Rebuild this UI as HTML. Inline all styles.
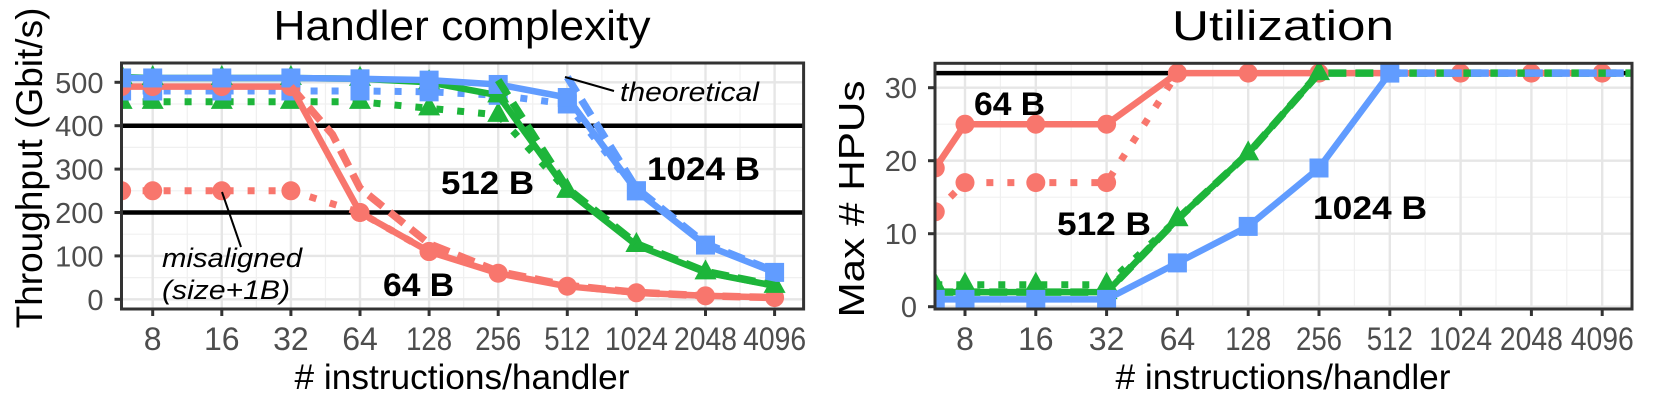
<!DOCTYPE html>
<html><head><meta charset="utf-8"><style>
html,body{margin:0;padding:0;background:#fff;}
svg{display:block;font-family:"Liberation Sans",Arial,sans-serif;}
</style></head><body>
<svg id="s" width="1654" height="402" xmlns="http://www.w3.org/2000/svg">
<defs>
<clipPath id="cL"><rect x="121.5" y="63" width="682" height="246"/></clipPath>
<clipPath id="cR"><rect x="935" y="63.3" width="697" height="245.7"/></clipPath>
</defs>
<g id="L"></g><g id="R"></g>
<text x="462" y="40" font-size="42" text-anchor="middle" textLength="377" lengthAdjust="spacingAndGlyphs">Handler complexity</text>
<text x="1283" y="40" font-size="42" text-anchor="middle" textLength="222" lengthAdjust="spacingAndGlyphs">Utilization</text>
<text x="462" y="389" font-size="35" text-anchor="middle" textLength="335" lengthAdjust="spacingAndGlyphs"># instructions/handler</text>
<text x="1283" y="389" font-size="35" text-anchor="middle" textLength="335" lengthAdjust="spacingAndGlyphs"># instructions/handler</text>
<text transform="translate(42,168) rotate(-90)" font-size="37" text-anchor="middle">Throughput (Gbit/s)</text>
<text transform="translate(864,199) rotate(-90)" font-size="36" text-anchor="middle" textLength="237" lengthAdjust="spacingAndGlyphs">Max # HPUs</text>
</svg>
<script>
const NS="http://www.w3.org/2000/svg";
function el(p,t,a,txt){const e=document.createElementNS(NS,t);for(const k in a)if(a[k]!==undefined)e.setAttribute(k,a[k]);if(txt!==undefined)e.textContent=txt;p.appendChild(e);return e;}
const C={r:"#F8766D",g:"#1DB53A",b:"#619CFF"};
const labs=["8","16","32","64","128","256","512","1024","2048","4096"];
function panel(g,cfg){
 const {x0,x1,y0,y1,X,Y,yt}=cfg;
 for(let i=-0.5;i<=9.5;i+=1){const x=X(i);if(x>x0&&x<x1)el(g,"line",{x1:x,x2:x,y1:y0,y2:y1,stroke:"#f0f0f0","stroke-width":1.2});}
 for(let k=0;k<yt.length-1;k++){const y=Y((yt[k]+yt[k+1])/2);el(g,"line",{x1:x0,x2:x1,y1:y,y2:y,stroke:"#f0f0f0","stroke-width":1.2});}
 const ext=yt[yt.length-1]+(yt[1]-yt[0])/2;const ye=Y(ext);if(ye>y0)el(g,"line",{x1:x0,x2:x1,y1:ye,y2:ye,stroke:"#f0f0f0","stroke-width":1.2});
 for(let i=0;i<10;i++){const x=X(i);el(g,"line",{x1:x,x2:x,y1:y0,y2:y1,stroke:"#e6e6e6","stroke-width":2.4});
  el(g,"line",{x1:x,x2:x,y1:y1,y2:y1+7,stroke:"#333","stroke-width":3});
  const n=labs[i].length;
  el(g,"text",{x:x,y:350,"font-size":32,fill:"#4d4d4d","text-anchor":"middle","textLength":n>3?63:(n==3?46:undefined),"lengthAdjust":"spacingAndGlyphs"},labs[i]);}
 for(const v of yt){const y=Y(v);el(g,"line",{x1:x0,x2:x1,y1:y,y2:y,stroke:"#e6e6e6","stroke-width":2.4});
  el(g,"line",{x1:x0-7,x2:x0,y1:y,y2:y,stroke:"#333","stroke-width":3});
  el(g,"text",{x:x0-18,y:y+10.5,"font-size":29,fill:"#4d4d4d","text-anchor":"end"},String(v));}
}
function line(g,clip,X,Y,pts,col,style,mk){
 const gg=el(g,"g",{"clip-path":"url(#"+clip+")"});
 const d=pts.map((p,k)=>(k?"L":"M")+X(p[0]).toFixed(1)+","+Y(p[1]).toFixed(1)).join(" ");
 const a={d:d,fill:"none",stroke:col,"stroke-width":6.5,"stroke-linejoin":"round"};
 if(style=="dash"){a["stroke-dasharray"]="18 9";a["stroke-width"]=7.5;}
 if(style=="dot"){a["stroke-dasharray"]="7 14";a["stroke-width"]=7;}
 el(gg,"path",a);
 if(mk)for(const p of pts){const x=X(p[0]),y=Y(p[1]);
  if(mk=="c")el(gg,"circle",{cx:x,cy:y,r:9.5,fill:col});
  else if(mk=="s")el(gg,"rect",{x:x-9.5,y:y-9.5,width:19,height:19,fill:col});
  else el(gg,"path",{d:`M${x},${y-13}L${x+11},${y+7}L${x-11},${y+7}Z`,fill:col});}
}
const L=document.getElementById("L");
const XL=i=>152.7+69.1*i, YL=v=>299.3-0.434*v, EL=-0.45;
panel(L,{x0:121.5,x1:803.6,y0:63,y1:309,X:XL,Y:YL,yt:[0,100,200,300,400,500]});
for(const v of [400,200])el(L,"line",{x1:121.5,x2:803.6,y1:YL(v),y2:YL(v),stroke:"#000","stroke-width":4.5});
line(L,"cL",XL,YL,[[EL,250],[0,250],[1,250],[2,250],[3,200],[4,110]],C.r,"dot","c");
line(L,"cL",XL,YL,[[EL,455],[0,455],[1,455],[2,455],[3,455],[4,440],[5,425],[6,250]],C.g,"dot","t");
line(L,"cL",XL,YL,[[EL,480],[0,480],[1,480],[2,480],[3,480],[4,478],[5,470],[6,450],[7,250]],C.b,"dot","s");
line(L,"cL",XL,YL,[[EL,490],[0,490],[1,490],[2,490],[3,200],[4,110],[5,60],[6,30],[7,15],[8,8],[9,4]],C.r,"solid","c");
line(L,"cL",XL,YL,[[EL,512],[0,510],[1,510],[2,510],[3,508],[4,500],[5,470],[6,250],[7,125],[8,62],[9,31]],C.g,"solid","t");
line(L,"cL",XL,YL,[[EL,510],[0,510],[1,510],[2,510],[3,508],[4,505],[5,495],[6,465],[7,250],[8,125],[9,62]],C.b,"solid","s");
line(L,"cL",XL,YL,[[2,490],[2.6,380],[3,256],[4,128],[5,64],[6,32],[7,16],[8,8],[9,4]],C.r,"dash");
line(L,"cL",XL,YL,[[5,505],[6,256],[7,128],[8,64],[9,32]],C.g,"dash");
line(L,"cL",XL,YL,[[6,512],[7,256],[8,128],[9,64]],C.b,"dash");
el(L,"rect",{x:121.5,y:63,width:682.1,height:246,fill:"none",stroke:"#333","stroke-width":3});
el(L,"line",{x1:565,y1:77,x2:614,y2:91,stroke:"#000","stroke-width":2});
el(L,"text",{x:620,y:101,"font-size":27,"font-style":"italic",textLength:139,lengthAdjust:"spacingAndGlyphs"},"theoretical");
el(L,"line",{x1:222,y1:192,x2:241,y2:247,stroke:"#000","stroke-width":2});
el(L,"text",{x:162,y:267,"font-size":27,"font-style":"italic",textLength:140,lengthAdjust:"spacingAndGlyphs"},"misaligned");
el(L,"text",{x:162,y:299,"font-size":27,"font-style":"italic",textLength:128,lengthAdjust:"spacingAndGlyphs"},"(size+1B)");
el(L,"text",{x:441,y:194,"font-size":32,"font-weight":"bold",textLength:93,lengthAdjust:"spacingAndGlyphs"},"512 B");
el(L,"text",{x:647,y:180,"font-size":32,"font-weight":"bold",textLength:113,lengthAdjust:"spacingAndGlyphs"},"1024 B");
el(L,"text",{x:383,y:296,"font-size":32,"font-weight":"bold",textLength:71,lengthAdjust:"spacingAndGlyphs"},"64 B");
const R=document.getElementById("R");
const XR=i=>965+70.8*i, YR=v=>306.7-7.3*v, ER=-0.42;
panel(R,{x0:935,x1:1632,y0:63.3,y1:309,X:XR,Y:YR,yt:[0,10,20,30]});
el(R,"line",{x1:935,x2:1632,y1:YR(32),y2:YR(32),stroke:"#000","stroke-width":4.5});
line(R,"cR",XR,YR,[[ER,13],[0,17],[1,17],[2,17],[3,32]],C.r,"dot","c");
line(R,"cR",XR,YR,[[ER,3],[0,3],[1,3],[2,3],[3,12]],C.g,"dot","t");
line(R,"cR",XR,YR,[[ER,19],[0,25],[1,25],[2,25],[3,32],[4,32],[5,32],[6,32],[7,32],[8,32],[9,32]],C.r,"solid","c");
line(R,"cR",XR,YR,[[ER,2],[0,2],[1,2],[2,2],[3,12],[4,21],[5,32]],C.g,"solid","t");
line(R,"cR",XR,YR,[[ER,2],[0,2],[1,2],[2,2],[3,12],[4,21],[5,32],[9.5,32]],C.g,"dash");
line(R,"cR",XR,YR,[[ER,1],[0,1],[1,1],[2,1],[3,6],[4,11],[5,19],[6,32]],C.b,"solid","s");
line(R,"cR",XR,YR,[[6,32],[9.5,32]],C.b,"dash");
el(R,"rect",{x:935,y:63.3,width:697,height:245.7,fill:"none",stroke:"#333","stroke-width":3});
el(R,"text",{x:974,y:115,"font-size":32,"font-weight":"bold",textLength:71,lengthAdjust:"spacingAndGlyphs"},"64 B");
el(R,"text",{x:1057,y:235,"font-size":32,"font-weight":"bold",textLength:94,lengthAdjust:"spacingAndGlyphs"},"512 B");
el(R,"text",{x:1313,y:219,"font-size":32,"font-weight":"bold",textLength:114,lengthAdjust:"spacingAndGlyphs"},"1024 B");
</script>
</body></html>
